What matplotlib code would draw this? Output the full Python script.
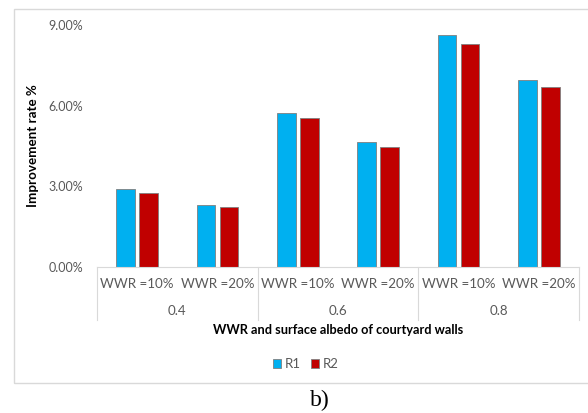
import numpy as np
import matplotlib.pyplot as plt
from matplotlib.patches import Rectangle
import matplotlib.transforms as mtransforms

plt.rcParams['font.family'] = ['Lato', 'DejaVu Sans']

# dados
albedo = ['0.4', '0.6', '0.8']
wwr = ['WWR =10%', 'WWR =20%']
r1 = [0.0288, 0.0230, 0.0573, 0.0463, 0.0862, 0.0694]
r2 = [0.0275, 0.0221, 0.0552, 0.0445, 0.0828, 0.0669]

cor_r1 = '#00B0F0'
cor_r2 = '#C00000'
cinza = '#595959'

fig = plt.figure(figsize=(5.88, 4.13), dpi=100)
ax = fig.add_axes([97/588, 1 - 266.7/413, 482/588, 241.7/413])

x = np.arange(len(r1))
w = 0.23
ax.bar(x - 0.143, r1, w, color=cor_r1, edgecolor='#7f7f7f', linewidth=0.6, label='R1')
ax.bar(x + 0.143, r2, w, color=cor_r2, edgecolor='#7f7f7f', linewidth=0.6, label='R2')

ax.set_xlim(-0.5, len(r1) - 0.5)
ax.set_ylim(0, 0.09)
ax.set_yticks([0, 0.03, 0.06, 0.09])
ax.set_yticklabels(['{:.2%}'.format(v) for v in [0, 0.03, 0.06, 0.09]])
ax.tick_params(axis='y', length=0, pad=10, labelsize=9, labelcolor=cinza)
ax.set_xticks([])

for s in ['top', 'right', 'left']:
    ax.spines[s].set_visible(False)
ax.spines['bottom'].set_color('#d9d9d9')

# eixo de categorias em dois niveis
trans = mtransforms.blended_transform_factory(ax.transData, ax.transAxes)
for i, lab in enumerate(wwr * len(albedo)):
    ax.text(i, -0.0716, lab, transform=trans, ha='center', va='center',
            fontsize=9.6, color=cinza)
for g, lab in enumerate(albedo):
    ax.text(2 * g + 0.5, -0.185, lab, transform=trans, ha='center', va='center',
            fontsize=9.6, color=cinza)
for b in np.arange(-0.5, len(r1), 2):
    ax.plot([b, b], [0, -0.2205], transform=trans, color='#d9d9d9',
            linewidth=0.8, clip_on=False)

ax.set_ylabel('Improvement rate %', fontsize=9.6, fontweight='bold')
ax.yaxis.set_label_coords(-0.1203, 0.5)
ax.text(0.5, -0.262, 'WWR and surface albedo of courtyard walls', transform=ax.transAxes,
        ha='center', va='center', fontsize=9.2, fontweight='bold')

fig.legend(loc='center', bbox_to_anchor=(306/588, 1 - 364/413), ncol=2, frameon=False,
           fontsize=9.5, handlelength=0.6, handleheight=0.6, handletextpad=0.3,
           columnspacing=0.8, labelcolor=cinza)

# moldura do grafico
fig.patches.append(Rectangle((14/588, 1 - 383/413), 584/588, 374/413,
                             transform=fig.transFigure, fill=False,
                             edgecolor='#d9d9d9', linewidth=1))

fig.text(320/588, 1 - 400/413, 'b)', ha='center', va='center', fontsize=17,
         family='Liberation Serif')

fig.savefig('out.png', dpi=100)
